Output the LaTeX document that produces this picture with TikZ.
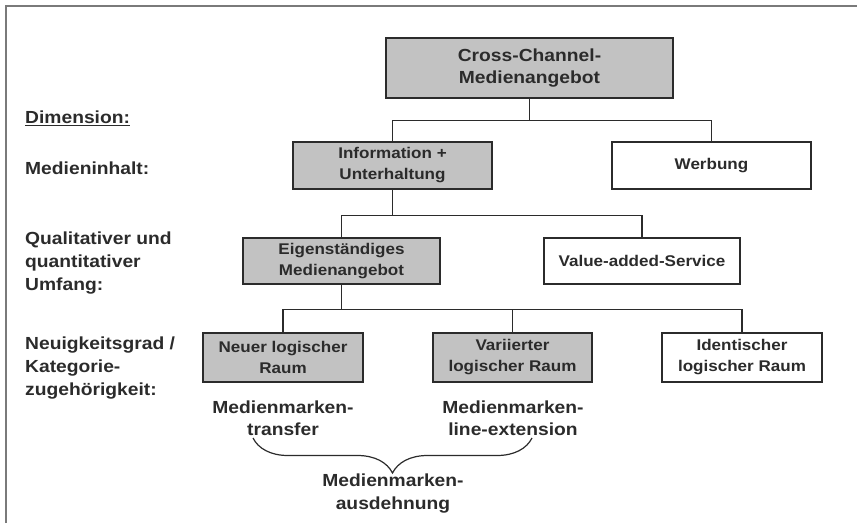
\documentclass[tikz,border=0pt]{standalone}
\usepackage{fontspec}
\setmainfont{Liberation Sans}[FakeStretch=1.1]
\usepackage{tikz}
\usetikzlibrary{positioning,decorations.pathreplacing}
\definecolor{greyish}{HTML}{C2C2C2}
\definecolor{dlinish}{HTML}{2B2B2B}
\definecolor{frameish}{HTML}{7A7A7A}

\begin{document}
\begin{tikzpicture}[
   x=1pt, y=-1pt,
   every node/.append style={align=center, inner sep=0pt, text=dlinish},
   grbox/.style={draw=dlinish, line width=1.2pt, fill=greyish,
      font=\bfseries\fontsize{15.5}{21}\selectfont},
   whbox/.style={grbox, fill=white},
   dimlab/.style={anchor=west, align=left, font=\bfseries\fontsize{17.5}{23}\selectfont},
   brlab/.style={font=\bfseries\fontsize{17.5}{22.5}\selectfont},
   conn/.style={draw=dlinish, line width=1.2pt}
]
\useasboundingbox (0,0) rectangle (857,523);
\draw[frameish, line width=1.5pt] (6,523) -- (6,6) -- (857,6);

% dimensions
\node[dimlab] (dim) at (25,118) {\underline{Dimension:}};
\node[dimlab] (inh) at (25,168) {Medieninhalt:};
\node[dimlab] (umf) at (25,263) {Qualitativer und\\quantitativer\\Umfang:};
\node[dimlab] (neu) at (25,368) {Neuigkeitsgrad /\\Kategorie-\\zugeh\"origkeit:};

% boxes
\node[grbox, minimum width=287pt, minimum height=60pt,
      font=\bfseries\fontsize{17.5}{22}\selectfont] (cross) at (529.5,68) {Cross-Channel-\\Medienangebot};
\node[grbox, minimum width=199pt, minimum height=47pt] (info) at (392.5,165.5) {Information +\\Unterhaltung};
\node[whbox, minimum width=199pt, minimum height=47pt] (werb) at (711.5,165.5) {Werbung};
\node[grbox, minimum width=197pt, minimum height=46pt] (eigen) at (341.5,261) {Eigenst\"andiges\\Medienangebot};
\node[whbox, minimum width=196pt, minimum height=46pt] (value) at (642,261) {Value-added-Service};
\node[grbox, minimum width=160pt, minimum height=49pt] (neuer) at (283,357.5) {Neuer logischer\\Raum};
\node[grbox, minimum width=159pt, minimum height=49pt] (vari) at (512.5,357.5) {Variierter\\logischer Raum};
\node[whbox, minimum width=160pt, minimum height=49pt] (ident) at (742,357.5) {Identischer\\logischer Raum};

% connectors
\draw[conn] (cross.south) -- ++(0,22) coordinate (bus1);
\draw[conn] (info.north) |- (bus1) -| (werb.north);
\draw[conn] (info.south) -- ++(0,26) coordinate (bus2);
\draw[conn] (eigen.north) |- (bus2) -| (value.north);
\draw[conn] (eigen.south) -- ++(0,25) coordinate (bus3);
\draw[conn] (neuer.north) |- (bus3) -| (ident.north);
\draw[conn] (vari.north) -- (vari.north |- bus3);

% brand extension
\node[brlab] (trf) at (283,418) {Medienmarken-\\transfer};
\node[brlab] (ext) at (513,418) {Medienmarken-\\line-extension};
\node[brlab] (ausd) at (393,493.5) {Medienmarken-\\ausdehnung};
\coordinate (brl) at (253,438);
\coordinate (brr) at (532,438);
\draw[conn, decorate, decoration={brace, mirror, amplitude=35pt}] (brl) -- (brr);
\end{tikzpicture}
\end{document}
